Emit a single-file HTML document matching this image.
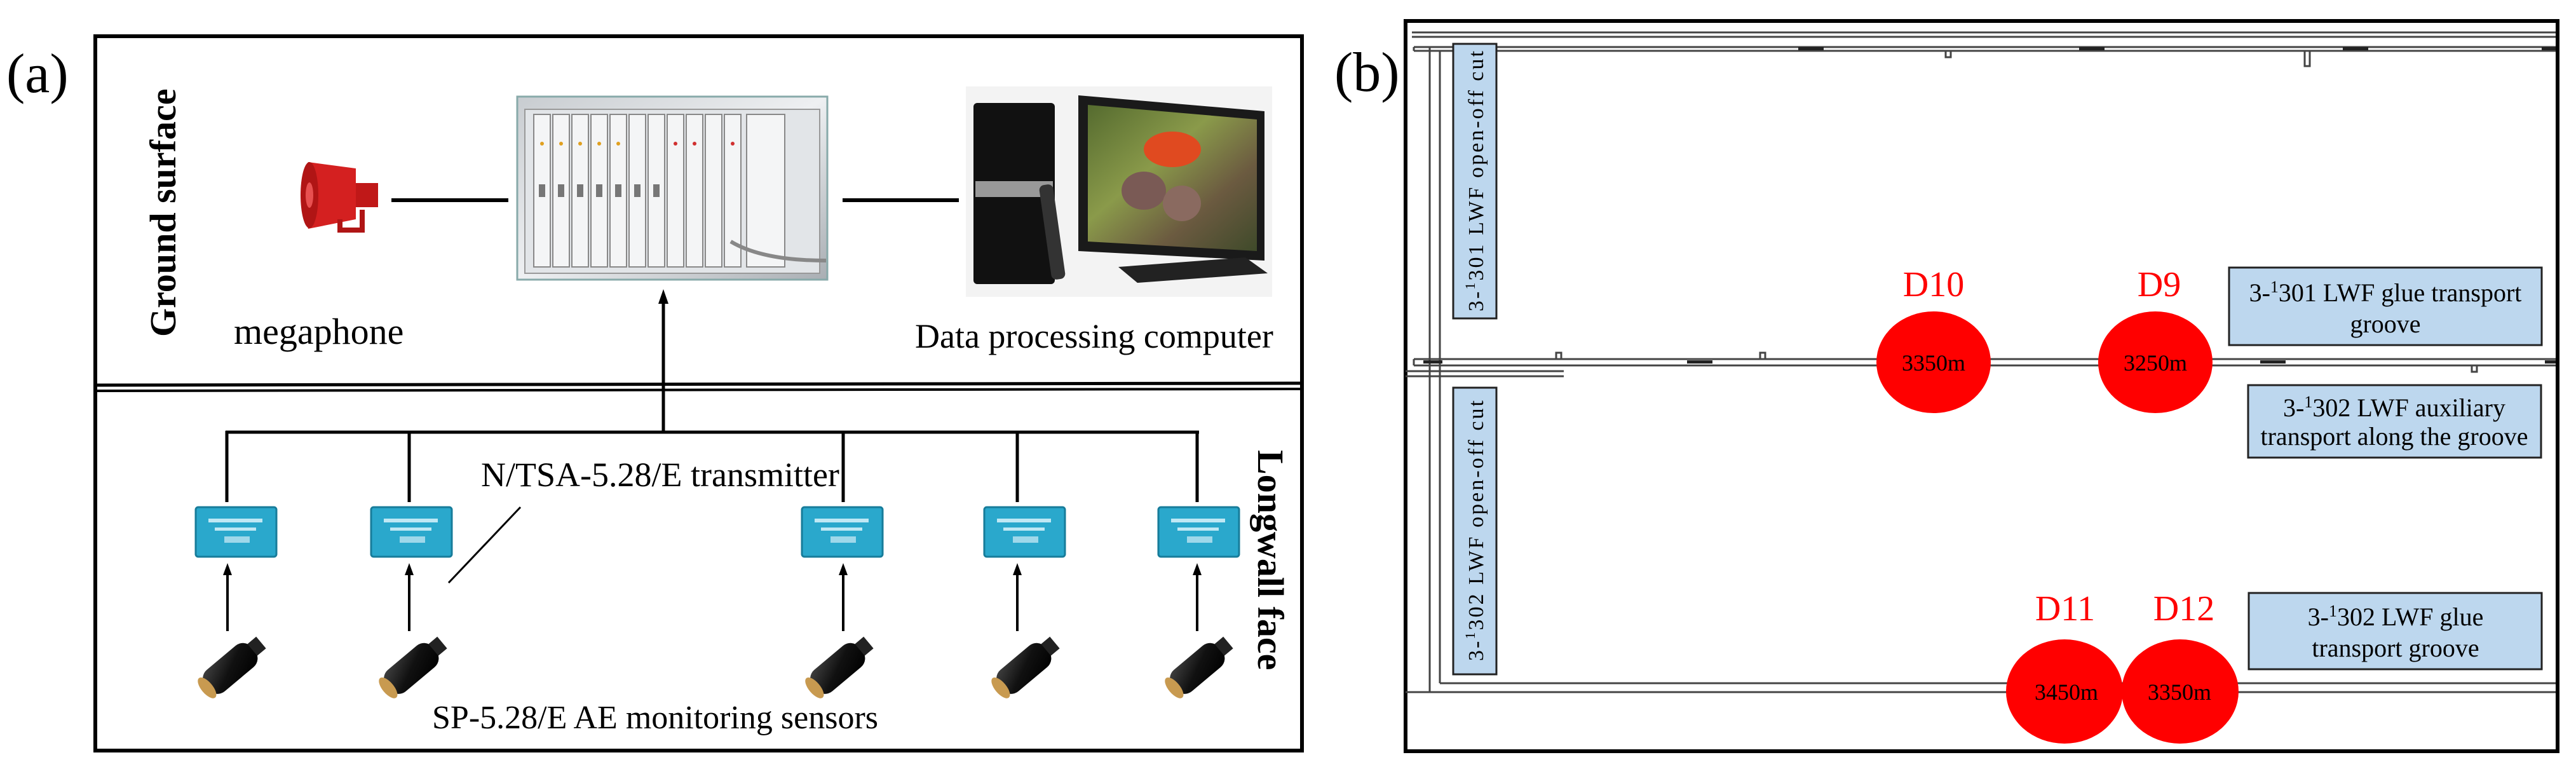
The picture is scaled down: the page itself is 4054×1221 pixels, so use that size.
<!DOCTYPE html>
<html><head><meta charset="utf-8"><style>
html,body{margin:0;padding:0;background:#fff;}
svg{display:block;}
text{font-family:"Liberation Serif",serif;}
</style></head><body>
<svg width="4054" height="1221" viewBox="0 0 4054 1221" xmlns="http://www.w3.org/2000/svg">
<defs>
<linearGradient id="rack" x1="0" y1="0" x2="1" y2="1"><stop offset="0" stop-color="#c8ccd0"/><stop offset="0.5" stop-color="#eef0f2"/><stop offset="1" stop-color="#a9aeb3"/></linearGradient>
<linearGradient id="scr" x1="0" y1="0" x2="1" y2="1"><stop offset="0" stop-color="#556b2f"/><stop offset="0.4" stop-color="#8a9a4a"/><stop offset="0.7" stop-color="#6b5a40"/><stop offset="1" stop-color="#3f4a2a"/></linearGradient>
<linearGradient id="sens" x1="0" y1="0" x2="1" y2="1"><stop offset="0" stop-color="#444"/><stop offset="0.5" stop-color="#111"/><stop offset="1" stop-color="#000"/></linearGradient>
</defs>

<text x="10" y="145" font-size="88">(a)</text>
<rect x="150" y="57" width="1899" height="1124" fill="none" stroke="#000" stroke-width="6"/>
<line x1="150" y1="606" x2="2049" y2="603" stroke="#000" stroke-width="5"/>
<line x1="150" y1="615" x2="2049" y2="612" stroke="#000" stroke-width="4"/>

<text transform="translate(276,530) rotate(-90)" font-size="58" font-weight="bold">Ground surface</text>
<text transform="translate(1980,708) rotate(90)" font-size="58" font-weight="bold">Longwall face</text>

<g>
<path d="M485 255 L560 265 L560 345 L485 360 Q470 307 485 255Z" fill="#d42020"/>
<ellipse cx="487" cy="307" rx="14" ry="52" fill="#b01515"/>
<ellipse cx="487" cy="307" rx="6" ry="20" fill="#e85050"/>
<rect x="560" y="288" width="35" height="38" fill="#c01818"/>
<path d="M535 345 L535 362 L570 362 L570 330" fill="none" stroke="#b01515" stroke-width="8"/>
</g>
<line x1="616" y1="315" x2="800" y2="315" stroke="#000" stroke-width="6"/>

<g>
<rect x="814" y="152" width="488" height="288" fill="url(#rack)" stroke="#8aa" stroke-width="3"/>
<rect x="826" y="172" width="464" height="258" fill="#e2e5e8" stroke="#999" stroke-width="2"/>
<g fill="#f4f5f6" stroke="#888" stroke-width="2">
<rect x="840" y="180" width="26" height="240"/><rect x="870" y="180" width="26" height="240"/><rect x="900" y="180" width="26" height="240"/><rect x="930" y="180" width="26" height="240"/><rect x="960" y="180" width="26" height="240"/><rect x="990" y="180" width="26" height="240"/><rect x="1020" y="180" width="26" height="240"/><rect x="1050" y="180" width="26" height="240"/><rect x="1080" y="180" width="26" height="240"/><rect x="1110" y="180" width="26" height="240"/><rect x="1140" y="180" width="26" height="240"/><rect x="1175" y="180" width="60" height="240"/>
</g>
<g fill="#e0a020"><circle cx="853" cy="226" r="3"/><circle cx="883" cy="226" r="3"/><circle cx="913" cy="226" r="3"/><circle cx="943" cy="226" r="3"/><circle cx="973" cy="226" r="3"/></g>
<g fill="#d03030"><circle cx="1063" cy="226" r="3"/><circle cx="1093" cy="226" r="3"/><circle cx="1153" cy="226" r="3"/></g>
<g fill="#777"><rect x="848" y="290" width="10" height="20"/><rect x="878" y="290" width="10" height="20"/><rect x="908" y="290" width="10" height="20"/><rect x="938" y="290" width="10" height="20"/><rect x="968" y="290" width="10" height="20"/><rect x="998" y="290" width="10" height="20"/><rect x="1028" y="290" width="10" height="20"/></g>
<path d="M1150 380 Q1200 410 1300 410" fill="none" stroke="#888" stroke-width="6"/>
</g>
<line x1="1326" y1="315" x2="1509" y2="315" stroke="#000" stroke-width="6"/>

<g>
<rect x="1520" y="136" width="482" height="331" fill="#f3f3f3"/>
<rect x="1532" y="162" width="128" height="285" rx="6" fill="#111"/>
<rect x="1535" y="285" width="122" height="25" fill="#999"/>
<path d="M1697 150 L1990 175 L1990 410 L1697 395 Z" fill="#1a1a1a"/>
<path d="M1712 165 L1978 188 L1978 395 L1712 380 Z" fill="url(#scr)"/>
<ellipse cx="1845" cy="235" rx="45" ry="28" fill="#e04a20"/>
<ellipse cx="1800" cy="300" rx="35" ry="30" fill="#7a5a55"/>
<ellipse cx="1860" cy="320" rx="30" ry="28" fill="#8a6a60"/>
<path d="M1760 420 L1960 405 L1995 430 L1790 445 Z" fill="#222"/>
<rect x="1645" y="290" width="22" height="150" rx="8" fill="#333" transform="rotate(-8 1656 365)"/>
</g>

<text x="368" y="541" font-size="58">megaphone</text>
<text x="1440" y="547" font-size="54">Data processing computer</text>

<line x1="1044" y1="680" x2="1044" y2="470" stroke="#000" stroke-width="5"/>
<path d="M1036 478 L1044 455 L1052 478 Z" fill="#000"/>
<line x1="355" y1="680" x2="1887" y2="680" stroke="#000" stroke-width="5"/>
<g stroke="#000" stroke-width="5">
<line x1="357" y1="678" x2="357" y2="790"/>
<line x1="644" y1="678" x2="644" y2="790"/>
<line x1="1327" y1="678" x2="1327" y2="790"/>
<line x1="1601" y1="678" x2="1601" y2="790"/>
<line x1="1884" y1="678" x2="1884" y2="790"/>
</g>

<text x="757" y="765" font-size="54">N/TSA-5.28/E transmitter</text>
<line x1="819" y1="798" x2="706" y2="917" stroke="#000" stroke-width="3"/>

<g>
<g transform="translate(308,798)"><rect width="127" height="78" rx="4" fill="#2aa8cc" stroke="#177c9a" stroke-width="3"/><rect x="20" y="18" width="85" height="6" fill="#bfe8f4"/><rect x="30" y="32" width="65" height="5" fill="#bfe8f4"/><rect x="45" y="46" width="40" height="10" fill="#9fd8ea"/></g>
<g transform="translate(584,798)"><rect width="127" height="78" rx="4" fill="#2aa8cc" stroke="#177c9a" stroke-width="3"/><rect x="20" y="18" width="85" height="6" fill="#bfe8f4"/><rect x="30" y="32" width="65" height="5" fill="#bfe8f4"/><rect x="45" y="46" width="40" height="10" fill="#9fd8ea"/></g>
<g transform="translate(1262,798)"><rect width="127" height="78" rx="4" fill="#2aa8cc" stroke="#177c9a" stroke-width="3"/><rect x="20" y="18" width="85" height="6" fill="#bfe8f4"/><rect x="30" y="32" width="65" height="5" fill="#bfe8f4"/><rect x="45" y="46" width="40" height="10" fill="#9fd8ea"/></g>
<g transform="translate(1549,798)"><rect width="127" height="78" rx="4" fill="#2aa8cc" stroke="#177c9a" stroke-width="3"/><rect x="20" y="18" width="85" height="6" fill="#bfe8f4"/><rect x="30" y="32" width="65" height="5" fill="#bfe8f4"/><rect x="45" y="46" width="40" height="10" fill="#9fd8ea"/></g>
<g transform="translate(1823,798)"><rect width="127" height="78" rx="4" fill="#2aa8cc" stroke="#177c9a" stroke-width="3"/><rect x="20" y="18" width="85" height="6" fill="#bfe8f4"/><rect x="30" y="32" width="65" height="5" fill="#bfe8f4"/><rect x="45" y="46" width="40" height="10" fill="#9fd8ea"/></g>
</g>

<g stroke="#000" stroke-width="4">
<line x1="358" y1="993" x2="358" y2="900"/><line x1="644" y1="993" x2="644" y2="900"/><line x1="1327" y1="993" x2="1327" y2="900"/><line x1="1601" y1="993" x2="1601" y2="900"/><line x1="1884" y1="993" x2="1884" y2="900"/>
</g>
<g fill="#000">
<path d="M351 905 L358 886 L365 905Z"/><path d="M637 905 L644 886 L651 905Z"/><path d="M1320 905 L1327 886 L1334 905Z"/><path d="M1594 905 L1601 886 L1608 905Z"/><path d="M1877 905 L1884 886 L1891 905Z"/>
</g>

<g>
<g transform="translate(368,1047) rotate(-40)"><rect x="-55" y="-22" width="95" height="44" rx="18" fill="url(#sens)"/><rect x="38" y="-12" width="18" height="24" fill="#222"/><ellipse cx="-55" cy="0" rx="9" ry="20" fill="#c89a50"/></g>
<g transform="translate(653,1047) rotate(-40)"><rect x="-55" y="-22" width="95" height="44" rx="18" fill="url(#sens)"/><rect x="38" y="-12" width="18" height="24" fill="#222"/><ellipse cx="-55" cy="0" rx="9" ry="20" fill="#c89a50"/></g>
<g transform="translate(1324,1047) rotate(-40)"><rect x="-55" y="-22" width="95" height="44" rx="18" fill="url(#sens)"/><rect x="38" y="-12" width="18" height="24" fill="#222"/><ellipse cx="-55" cy="0" rx="9" ry="20" fill="#c89a50"/></g>
<g transform="translate(1617,1047) rotate(-40)"><rect x="-55" y="-22" width="95" height="44" rx="18" fill="url(#sens)"/><rect x="38" y="-12" width="18" height="24" fill="#222"/><ellipse cx="-55" cy="0" rx="9" ry="20" fill="#c89a50"/></g>
<g transform="translate(1890,1047) rotate(-40)"><rect x="-55" y="-22" width="95" height="44" rx="18" fill="url(#sens)"/><rect x="38" y="-12" width="18" height="24" fill="#222"/><ellipse cx="-55" cy="0" rx="9" ry="20" fill="#c89a50"/></g>
</g>

<text x="680" y="1146" font-size="52">SP-5.28/E AE monitoring sensors</text>

<text x="2100" y="143" font-size="88">(b)</text>
<rect x="2212" y="33" width="1813" height="1149" fill="none" stroke="#000" stroke-width="6"/>

<g stroke="#444" stroke-width="3" fill="none">
<line x1="2222" y1="51" x2="4022" y2="51"/>
<line x1="2222" y1="58" x2="4022" y2="58"/>
<line x1="2225" y1="74" x2="4022" y2="74"/>
<line x1="2225" y1="80" x2="4022" y2="80"/>
<line x1="2225" y1="74" x2="2225" y2="80"/>
<line x1="2250" y1="74" x2="2250" y2="1089"/>
<line x1="2266" y1="80" x2="2266" y2="1075"/>
<line x1="2225" y1="565" x2="4022" y2="565"/>
<line x1="2225" y1="575" x2="4022" y2="575"/>
<line x1="2225" y1="565" x2="2225" y2="575"/>
<line x1="2212" y1="584" x2="2461" y2="584"/>
<line x1="2212" y1="592" x2="2461" y2="592"/>
<line x1="2266" y1="1075" x2="4022" y2="1075"/>
<line x1="2212" y1="1089" x2="4022" y2="1089"/>
<path d="M3062 80 v10 h8 v-10"/>
<path d="M3627 80 v24 h8 v-24"/>
<path d="M2449 565 v-10 h8 v10"/>
<path d="M2770 565 v-10 h8 v10"/>
<path d="M3890 575 v10 h8 v-10"/>
</g>
<g fill="#222">
<rect x="2830" y="74" width="40" height="5"/><rect x="3272" y="74" width="40" height="5"/><rect x="3687" y="74" width="40" height="5"/><rect x="4000" y="74" width="22" height="5"/>
<rect x="2240" y="567" width="30" height="5"/><rect x="2655" y="567" width="40" height="5"/><rect x="3557" y="567" width="40" height="5"/><rect x="4005" y="567" width="17" height="5"/>
</g>

<rect x="2287" y="69" width="68" height="432" fill="#bdd7ee" stroke="#222" stroke-width="3"/>
<text transform="translate(2334,490) rotate(-90)" font-size="34" textLength="410" lengthAdjust="spacing">3-<tspan font-size="22" dy="-13">1</tspan><tspan dy="13">301 LWF open-off cut</tspan></text>
<rect x="2287" y="610" width="68" height="451" fill="#bdd7ee" stroke="#222" stroke-width="3"/>
<text transform="translate(2334,1040) rotate(-90)" font-size="34" textLength="410" lengthAdjust="spacing">3-<tspan font-size="22" dy="-13">1</tspan><tspan dy="13">302 LWF open-off cut</tspan></text>

<rect x="3508" y="421" width="492" height="122" fill="#bdd7ee" stroke="#222" stroke-width="3"/>
<text x="3754" y="474" font-size="40" text-anchor="middle">3-<tspan font-size="26" dy="-14">1</tspan><tspan dy="14">301 LWF glue transport</tspan></text>
<text x="3754" y="523" font-size="40" text-anchor="middle">groove</text>
<rect x="3538" y="606" width="461" height="114" fill="#bdd7ee" stroke="#222" stroke-width="3"/>
<text x="3768" y="655" font-size="40" text-anchor="middle">3-<tspan font-size="26" dy="-14">1</tspan><tspan dy="14">302 LWF auxiliary</tspan></text>
<text x="3768" y="700" font-size="40" text-anchor="middle">transport along the groove</text>
<rect x="3539" y="933" width="461" height="120" fill="#bdd7ee" stroke="#222" stroke-width="3"/>
<text x="3770" y="984" font-size="40" text-anchor="middle">3-<tspan font-size="26" dy="-14">1</tspan><tspan dy="14">302 LWF glue</tspan></text>
<text x="3770" y="1033" font-size="40" text-anchor="middle">transport groove</text>

<g fill="#ff0000">
<ellipse cx="3043" cy="570" rx="90" ry="80"/>
<ellipse cx="3392" cy="570" rx="90" ry="80"/>
<ellipse cx="3249" cy="1088" rx="92" ry="82"/>
<ellipse cx="3431" cy="1088" rx="92" ry="82"/>
</g>
<g font-size="36" text-anchor="middle" fill="#000">
<text x="3043" y="583">3350m</text>
<text x="3392" y="583">3250m</text>
<text x="3252" y="1101">3450m</text>
<text x="3430" y="1101">3350m</text>
</g>
<g font-size="56" text-anchor="middle" fill="#ff0000">
<text x="3043" y="466">D10</text>
<text x="3398" y="466">D9</text>
<text x="3250" y="976">D11</text>
<text x="3437" y="976">D12</text>
</g>
</svg>
</body></html>
